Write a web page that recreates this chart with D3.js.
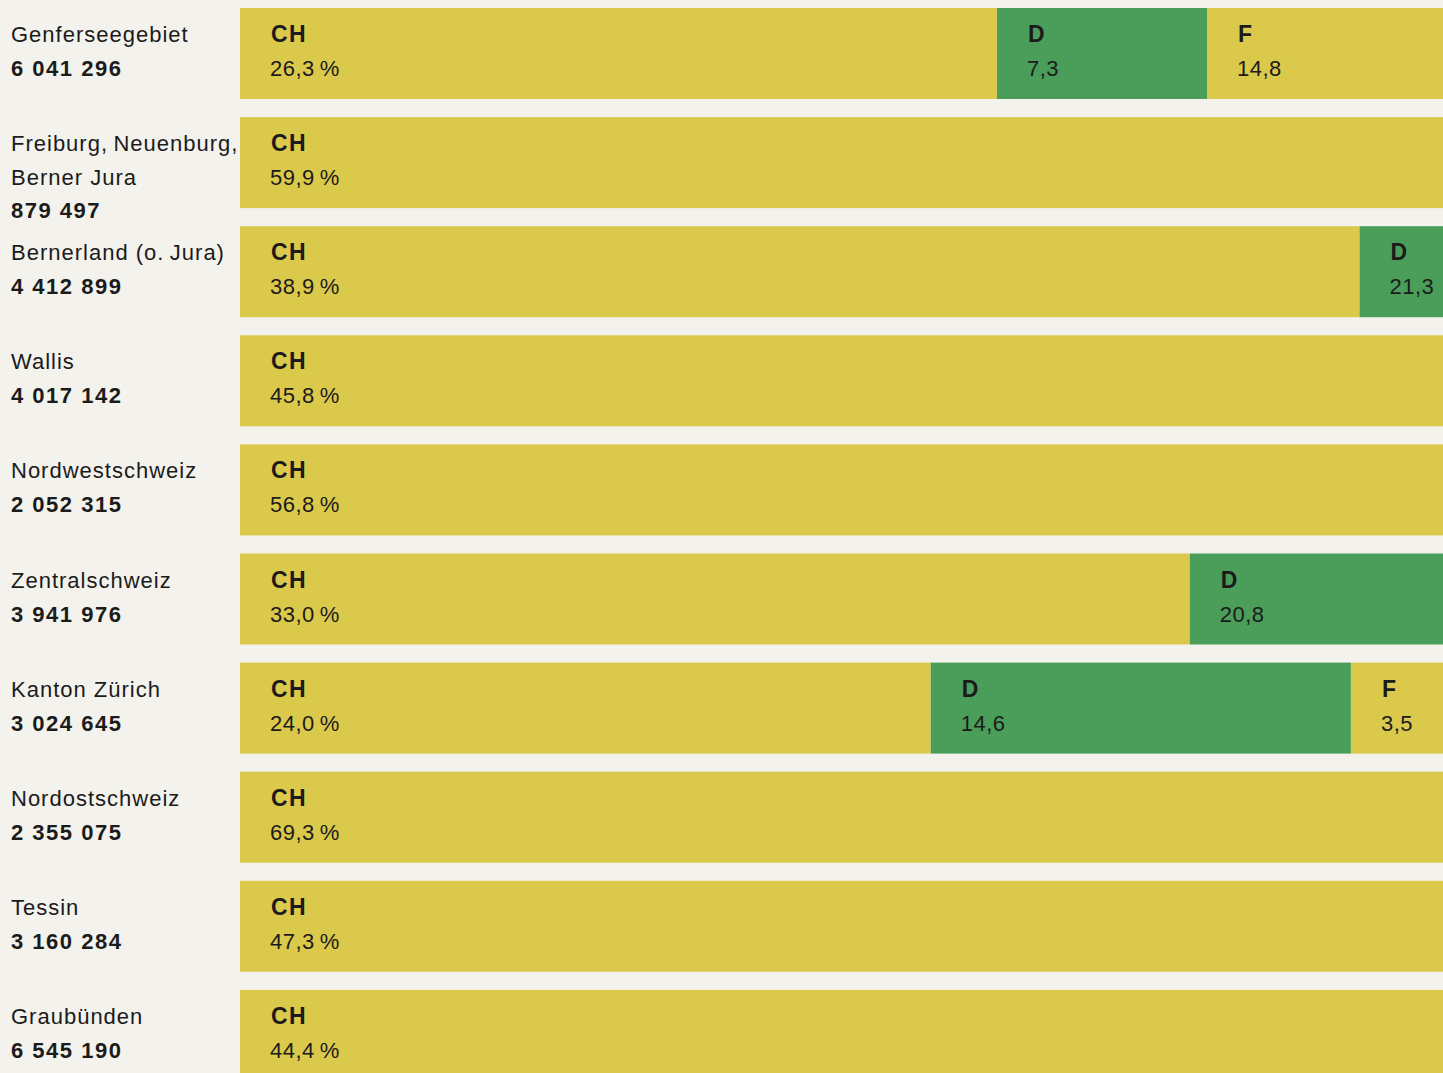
<!DOCTYPE html>
<html><head><meta charset="utf-8">
<script src="https://cdn.jsdelivr.net/npm/d3@7"></script>
<style>
html,body{margin:0;padding:0;background:#f3f2ec;overflow:hidden}
svg{display:block}
text{font-family:"Liberation Sans",Arial,sans-serif;fill:#1b1b1b}
</style></head>
<body>
<svg id="c" width="1443" height="1073"></svg>
<script>
const regions = [
  ["Genferseegebiet"],
  ["Freiburg,\u2009Neuenburg,", "Berner Jura"],
  ["Bernerland (o.\u2009Jura)"],
  ["Wallis"],
  ["Nordwestschweiz"],
  ["Zentralschweiz"],
  ["Kanton Zürich"],
  ["Nordostschweiz"],
  ["Tessin"],
  ["Graubünden"]
];
const totals = ["6 041 296","879 497","4 412 899","4 017 142","2 052 315","3 941 976","3 024 645","2 355 075","3 160 284","6 545 190"];
const shareCH = [26.3, 59.9, 38.9, 45.8, 56.8, 33.0, 24.0, 69.3, 47.3, 44.4];
const shareD  = [7.3, null, 21.3, null, null, 20.8, 14.6, null, null, null];
const shareF  = [14.8, null, null, null, null, null, 3.5, null, null, null];
const segCodes = ["CH","D","F"];
const segColors = {CH:"#dbc94c", D:"#4a9e5a", F:"#dbc94c"};

const svg = d3.select("#c");
const x = d3.scaleLinear().domain([0,100]).range([240, 240 + 2878]);
const y = d3.scaleBand().domain(d3.range(regions.length)).range([8, 8 + 109.1*9 + 91]).paddingInner(0.166).paddingOuter(0);
const bh = y.bandwidth();

const fmt = v => v.toFixed(1).replace(".", ",");

regions.forEach((lines, i) => {
  const g = svg.append("g");
  const t0 = y(i);
  const segs = [];
  let acc = 0;
  [shareCH[i], shareD[i], shareF[i]].forEach((v, k) => {
    if (v == null) return;
    segs.push({code: segCodes[k], v, x0: acc, x1: acc + v, first: k === 0});
    acc += v;
  });
  // remainder of bar beyond the known segments (runs off the page)
  g.append("rect").attr("x", x(acc)).attr("y", t0).attr("width", Math.max(0, 1450 - x(acc))).attr("height", bh).attr("fill", "#dbc94c");
  segs.forEach(s => {
    g.append("rect").attr("x", x(s.x0)).attr("y", t0)
      .attr("width", x(s.x1) - x(s.x0)).attr("height", bh).attr("fill", segColors[s.code]);
    g.append("text").attr("x", x(s.x0) + 31).attr("y", t0 + 34)
      .attr("font-size", 23).attr("font-weight", "bold").attr("letter-spacing", 1.5).text(s.code);
    g.append("text").attr("x", x(s.x0) + 30).attr("y", t0 + 68)
      .attr("font-size", 22).attr("letter-spacing", 0.5).text(fmt(s.v) + (s.first ? "\u2009%" : ""));
  });
  lines.forEach((ln, j) => {
    g.append("text").attr("x", 11).attr("y", t0 + 34 + j*34)
      .attr("font-size", 22).attr("letter-spacing", 1.0).text(ln);
  });
  g.append("text").attr("x", 11).attr("y", t0 + 34 + lines.length*34 - (lines.length > 1 ? 1 : 0))
    .attr("font-size", 22).attr("font-weight", "bold").attr("letter-spacing", 1.5).text(totals[i]);
});
</script>
</body></html>
